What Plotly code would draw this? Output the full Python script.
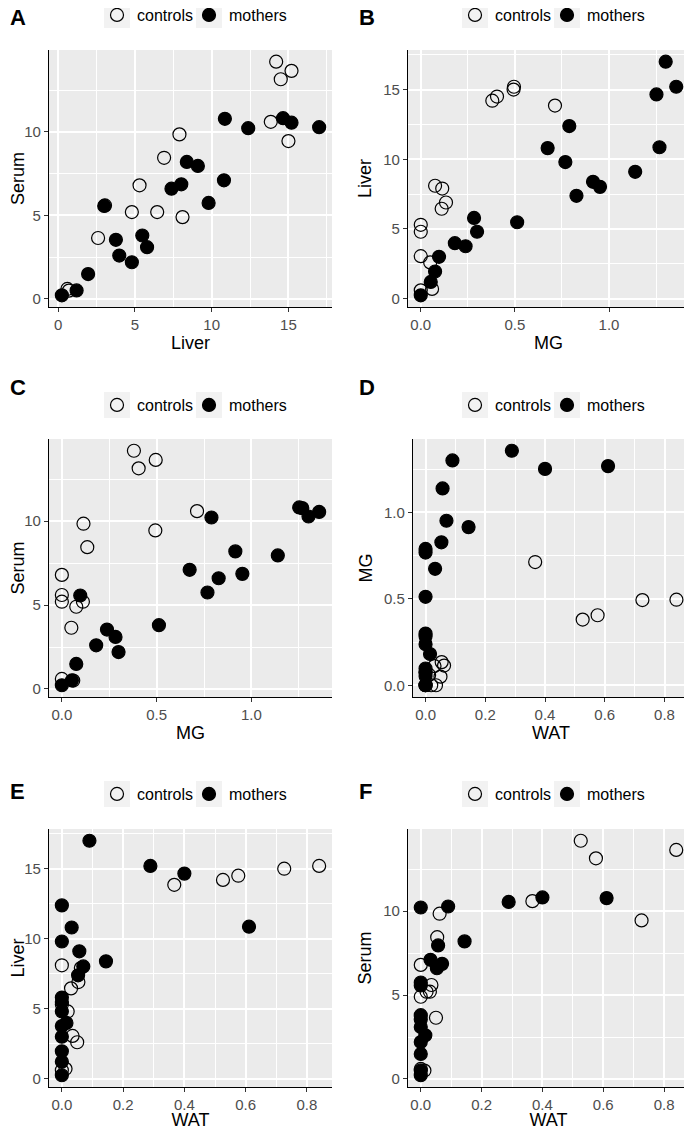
import plotly.graph_objects as go

# ---------------- data (one entry per animal) ----------------
ctrl_liver = [5.3, 4.8, 3.05, 0.6, 2.6, 0.7, 8.1, 7.9, 6.9, 6.45, 14.2, 14.5, 15.2, 15.0, 13.85]
ctrl_serum = [6.8, 5.2, 5.6, 0.6, 3.65, 0.5, 4.9, 9.85, 8.45, 5.2, 14.2, 13.15, 13.65, 9.45, 10.6]
ctrl_mg = [0.0, 0.0, 0.0, 0.0, 0.05, 0.06, 0.076, 0.114, 0.134, 0.111, 0.38, 0.405, 0.495, 0.493, 0.713]
ctrl_wat = [0.0, 0.019, 0.035, 0.0, 0.05, 0.012, 0.0, 0.062, 0.054, 0.03, 0.526, 0.576, 0.84, 0.726, 0.367]

moth_liver = [0.24, 1.2, 1.95, 3.0, 3.98, 3.76, 5.79, 4.8, 5.48, 10.8, 9.8, 12.38, 7.38, 8.38, 8.02, 9.1, 14.65, 10.86, 17.0, 15.2]
moth_serum = [0.22, 0.51, 1.49, 5.57, 2.6, 3.54, 3.1, 2.2, 3.8, 7.1, 5.75, 10.22, 6.6, 8.2, 6.86, 7.96, 10.82, 10.78, 10.28, 10.55]
moth_mg = [0.0, 0.053, 0.076, 0.097, 0.181, 0.238, 0.283, 0.299, 0.512, 0.674, 0.768, 0.789, 0.827, 0.915, 0.952, 1.139, 1.252, 1.268, 1.301, 1.357]
moth_wat = [0.0, 0.0, 0.0, 0.0, 0.015, 0.0, 0.0, 0.0, 0.0, 0.032, 0.0, 0.0, 0.053, 0.144, 0.07, 0.057, 0.4, 0.611, 0.09, 0.289]

group_names = ["controls", "mothers"]
panel_letters = ["A", "B", "C", "D", "E", "F"]
panel_x_vars = ["Liver", "MG", "MG", "WAT", "WAT", "WAT"]
panel_y_vars = ["Serum", "Liver", "Serum", "MG", "Liver", "Serum"]

controls = {"Liver": ctrl_liver, "Serum": ctrl_serum, "MG": ctrl_mg, "WAT": ctrl_wat}
mothers = {"Liver": moth_liver, "Serum": moth_serum, "MG": moth_mg, "WAT": moth_wat}

# ---------------- layout helpers ----------------
# the page body has an 8px margin, so the figure is drawn 8px in from the window corner
OFF = 8
WIN_W, WIN_H = 692, 1130
W, H = WIN_W - OFF, WIN_H - OFF
def px(x):
    return (x - OFF) / W
def py(y):
    return 1 - (y - OFF) / H

# plot boxes in window pixels (left, right, top, bottom)
boxes = [(49, 332, 50, 307), (408, 689, 50, 307),
         (49, 332, 439, 697), (413, 689, 439, 697),
         (49, 332, 829, 1087), (408, 689, 829, 1087)]
tick_step = {"Liver": 5, "Serum": 5, "MG": 0.5, "WAT": 0.2}
tick_fmt = {"Liver": "d", "Serum": "d", "MG": ".1f", "WAT": ".1f"}
letter_pos = [(8, 3), (357, 3), (8, 373), (357, 373), (8, 777), (357, 777)]
key_lefts = [(104, 196), (462, 554), (104, 196), (462, 554), (104, 196), (462, 554)]
legend_cy = [15, 15, 405, 405, 794, 794]
KEY_W = 26

BG = "#EBEBEB"

def rng(var):
    vals = controls[var] + mothers[var]
    lo, hi = min(vals), max(vals)
    span = hi - lo
    return [lo - 0.05 * span, hi + 0.05 * span]

fig = go.Figure()
layout = dict(
    width=W, height=H,
    margin=dict(l=0, r=0, t=0, b=0, autoexpand=False),
    paper_bgcolor="white", plot_bgcolor=BG,
    font=dict(family="Liberation Sans, Arial, sans-serif", color="black"),
    showlegend=True,
    annotations=[], shapes=[],
)

for i in range(6):
    n = "" if i == 0 else str(i + 1)
    xv, yv = panel_x_vars[i], panel_y_vars[i]
    l, r, t, b = boxes[i]
    for g, (grp, sym) in enumerate([(controls, "circle-open"), (mothers, "circle")]):
        k = 2 * i + g
        legname = "legend" if k == 0 else "legend" + str(k + 1)
        fig.add_trace(go.Scatter(
            x=grp[xv], y=grp[yv], mode="markers", name=group_names[g],
            xaxis="x" + n, yaxis="y" + n, legend=legname,
            marker=dict(symbol=sym, size=13, color="black", line=dict(width=1.2, color="black")),
            hoverinfo="skip",
        ))
        kl = key_lefts[i][g]
        layout[legname] = dict(
            orientation="h", x=px(kl - 7), xanchor="left",
            y=py(legend_cy[i]), yanchor="middle",
            font=dict(size=16, color="black"), bgcolor="rgba(0,0,0,0)",
            itemwidth=30, itemclick=False, itemdoubleclick=False,
        )
        layout["shapes"].append(dict(
            type="rect", xref="paper", yref="paper", layer="below",
            x0=px(kl), x1=px(kl + KEY_W),
            y0=py(legend_cy[i] + 13), y1=py(legend_cy[i] - 13),
            fillcolor="#F2F2F2", line=dict(width=0),
        ))
    common = dict(
        showgrid=True, gridcolor="white", gridwidth=1.5, zeroline=False,
        showline=True, linecolor="black", linewidth=1.2,
        ticks="outside", ticklen=4, tickcolor="#333333", tickwidth=1,
        tickfont=dict(size=15, color="#4D4D4D"), automargin=False, tick0=0,
    )
    layout["xaxis" + n] = dict(
        common, domain=[px(l), px(r)], anchor="y" + n, range=rng(xv),
        dtick=tick_step[xv], tickformat=tick_fmt[xv],
        minor=dict(dtick=tick_step[xv] / 2, tick0=0, showgrid=True, gridcolor="white", gridwidth=0.7),
        title=dict(text=xv, font=dict(size=18, color="black"), standoff=4),
    )
    layout["yaxis" + n] = dict(
        common, domain=[py(b), py(t)], anchor="x" + n, range=rng(yv),
        dtick=tick_step[yv], tickformat=tick_fmt[yv],
        minor=dict(dtick=tick_step[yv] / 2, tick0=0, showgrid=True, gridcolor="white", gridwidth=0.7),
        title=dict(text=yv, font=dict(size=18, color="black"), standoff=6),
    )
    lx, ly = letter_pos[i]
    layout["annotations"].append(dict(
        text="<b>" + panel_letters[i] + "</b>", x=px(lx), y=py(ly), xref="paper", yref="paper",
        xanchor="left", yanchor="top", showarrow=False, font=dict(size=22, color="black"),
    ))

fig.update_layout(**layout)
fig.write_html("out.html")
